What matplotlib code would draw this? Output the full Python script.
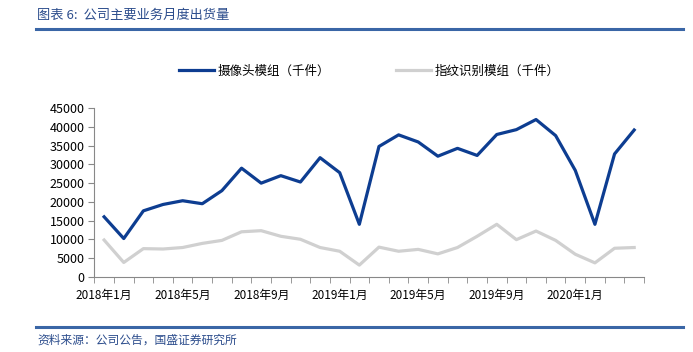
import matplotlib.pyplot as plt
import numpy as np

plt.rcParams['font.family'] = ['Noto Sans CJK SC', 'DejaVu Sans']

# monthly shipments, 2018-01 .. 2020-04
camera = [16000, 10200, 17600, 19300, 20300, 19500, 23000, 29000, 25000, 27000,
          25300, 31800, 27800, 14000, 34800, 37900, 36000, 32200, 34300, 32400,
          38000, 39300, 42000, 37700, 28400, 14000, 32800, 39200]
fingerprint = [9800, 3800, 7500, 7400, 7800, 8900, 9700, 12000, 12300, 10800,
               10000, 7800, 6800, 3100, 7900, 6800, 7300, 6100, 7800, 10800,
               14000, 9900, 12200, 9700, 6000, 3700, 7600, 7800]
tick_labels = ['2018年1月', '2018年5月', '2018年9月', '2019年1月',
               '2019年5月', '2019年9月', '2020年1月']
series_names = ['摄像头模组（千件）', '指纹识别模组（千件）']

W, H = 693, 352
fig = plt.figure(figsize=(W / 100, H / 100), dpi=100)

# header / footer
fig.text(37 / W, 1 - 15 / H, '图表 6:  公司主要业务月度出货量', color='#2B4C8C',
         fontsize=9.5, va='center', ha='left', style='italic')
fig.add_artist(plt.Line2D([36 / W, 1 - 10 / W], [1 - 29 / H] * 2,
                          color='#3A66A6', lw=2.2))
fig.add_artist(plt.Line2D([36 / W, 1 - 10 / W], [1 - 327 / H] * 2,
                          color='#3A66A6', lw=2.2))
fig.text(37 / W, 1 - 340 / H, '资料来源：公司公告，国盛证券研究所', color='#2B4C8C',
         fontsize=8.5, va='center', ha='left', style='italic')

ax = fig.add_axes([94.3 / W, 1 - 276.7 / H, 549.7 / W, 168.4 / H])
x = np.arange(len(camera))
ax.plot(x, camera, color='#0D3D91', lw=2.3, label=series_names[0])
ax.plot(x, fingerprint, color='#D0D0D0', lw=2.3, label=series_names[1])

ax.set_xlim(-0.5, len(camera) - 0.5)
ax.set_ylim(0, 45000)
ax.set_yticks(np.arange(0, 45001, 5000))
ax.tick_params(axis='y', labelsize=9, length=4, color='#888888', pad=3)
ax.set_xticks(np.arange(0, len(camera), 4))
ax.set_xticklabels(tick_labels, fontsize=8.5)
ax.set_xticks(np.arange(-0.5, len(camera), 1), minor=True)
ax.tick_params(axis='x', which='major', length=0, pad=9)
ax.tick_params(axis='x', which='minor', length=4, color='#888888')
for s in ['top', 'right']:
    ax.spines[s].set_visible(False)
for s in ['left', 'bottom']:
    ax.spines[s].set_color('#888888')

ax.legend(loc='upper center', bbox_to_anchor=(0.5, 1 + 55 / 168.4), ncol=2,
          frameon=False, fontsize=9, handlelength=2.8, columnspacing=5.3,
          handletextpad=0.3)

fig.savefig('out.png', dpi=100)
